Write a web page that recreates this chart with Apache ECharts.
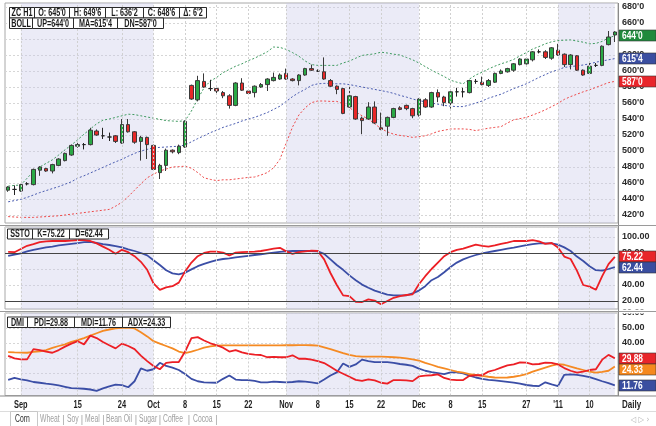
<!DOCTYPE html>
<html><head><meta charset="utf-8">
<script src="https://cdn.jsdelivr.net/npm/echarts@6/dist/echarts.min.js"></script>
<style>html,body{margin:0;padding:0;background:#fff}#c{width:656px;height:426px}</style>
</head><body><div id="c"></div>
<script>
// ---------- DATA ----------
const dates = ['08-30','08-31','09-01','09-02','09-03','09-07','09-08','09-09','09-10','09-13','09-14','09-15','09-16','09-17','09-20','09-21','09-22','09-23','09-24','09-27','09-28','09-29','09-30',
'10-01','10-04','10-05','10-06','10-07','10-08','10-11','10-12','10-13','10-14','10-15','10-18','10-19','10-20','10-21','10-22','10-25','10-26','10-27','10-28','10-29',
'11-01','11-02','11-03','11-04','11-05','11-08','11-09','11-10','11-11','11-12','11-15','11-16','11-17','11-18','11-19','11-22','11-23','11-24','11-26','11-29','11-30',
'12-01','12-02','12-03','12-06','12-07','12-08','12-09','12-10','12-13','12-14','12-15','12-16','12-17','12-20','12-21','12-22','12-23','12-27','12-28','12-29','12-30','12-31',
'01-03','01-04','01-05','01-06','01-07','01-10','01-11','01-12','01-13','01-14'];
const opens  = [451,452,450,459,458,476,478,475,482,488,495,506,508,508,525,519,517.5,519,510,533,524,512,517,507,473,482,501,498,505,582,564,587,578,578,573,569,557,585,575,573,580,583,588,590,597,590,588,595,603,600,599,588,581,578,555,568,541,540,555,529,531,542,554,557,553,545,564,555,573,567.5,560,574,574,573,587,586,582,586,597,599,601,608,609,614,624,624,616,626,621,608,619,601,597,607,607,633,645];
const closes = [455,452,458,459,477,480,475,483,490,497,507,508,508,526,520,519,517.5,512,533,524,511,517,508,477,482,501,499,506,537,565,588,580,578,575,569,557,585,576,572,581,583,590,592,595,590,588,595,603,601,600,590,581,577,547,569,540,538,555,535,527,542,553,552,553,544,565,555,573,567.5,560.5,574,574,574,588,587,583,588,597,600,603,609,615,615,624,624,617,629,620,608,620,601,595,606,607,631,642.5,648.75];
const lows   = [449,445,449,457,457,469,474,472,481,487,494,504,502,507,519,515,512.5,510,509,523,509,488,490,476,465,475,497,496,504,564,562,579,575,572,566,553,556,575,571,567,579,575,587,589,589,587,582,594,600,599,589,580,571,546,554,539,521,539,534,526,519,541,551,551,541,543,554,554,561,556,553,568,567,572,584,582,580,585,596,598,599,607,608,612,622,615,614,619,605,602,600,594,596,605,606,632,636.25];
const highs  = [456,457,459,461,478,481,479,484,491,498,508,510,510,529,527,529,523,520,540,540,525,519,518,508,484,503,502,508,538,583,594,597,589,579,575,571,586,591,576,582,585,591,598,597,603,591,596,604,608,602,617,590,582,579,580,569,543,561,562,548,543,554,556,558,554,566,566,574,577,569,575,579,579,589,590,593,590,598,602,604,610,616,617,625,627,626,630,634,622,621,620,602,612,610,632,650,649.75];
const bollUp  = [456,457,457.5,466,474.5,480,484.5,489,495,501.5,507.5,514,521,527.5,534,538.5,540,542,544,546,545.5,544,542.5,541,539.5,538,537.5,537,538,550,565,579,587.5,592,598,602,606,609,613,616,620,624,630,629.5,627,623,618.5,612.5,608,607,607,607,607,610,612.5,616,619.5,620.5,621.5,623.5,622.5,621,620,617,614,610,605.5,601,597,593,588.5,586,584,590,595,598.5,602.5,606,609,611.5,614.5,619,623,627.5,630.5,634,636.5,638,638.5,638.8,637.5,636,634,634.5,637,641.5,644];
const bollMid = [436.5,438,439.6,442,445,448,450.5,453,455.5,458.5,461.5,466,469,472.5,476,479.5,483,486.5,489.5,493.5,497,500,502,504,504.5,505,505.5,506,507.5,511.5,515.5,519,523,526,529.5,532,534.5,537.5,540,542,545,548,552,556,562,568,573,577,582,584,584.5,584.5,584,584,583,581.5,580,578.5,577,575.5,574,572,569.5,567.5,565,563,561.5,560,558.5,557,556,555.5,555.5,557.5,560,562.5,566,568.5,571,574.5,578,581,584,588,592,595.5,599,601.5,604.5,605.5,606.5,607.5,609,611,612.5,614,615.5];
const bollDn  = [418,417.5,417,417,417,417.5,418,418.5,419,420,421,422,423,424,425,426,427,431,436,443,451,459,466.5,471,475,477.5,480,480.5,481,478.5,473,466.5,464.5,463,464,464,465,466,467,467.5,470,473,479,489.5,510,530,545,554,560.5,562.5,562.5,562,562,559,554,549,544,540,534,528,524,521,519.5,518.5,517,518,519,521.5,524.5,526,527.5,527.6,527.6,527,525.5,527,528.5,529.5,530.5,535,539,540.5,542,545,548,551.5,555.5,559.5,564.5,568,571,574,576.5,579.5,582.5,585.5,587];
const ssK = [81.3,81,85,89,91,93.5,94.5,95,95,95,95.5,96,96,95,92,88,84,79,84,81,76,69,59,42,34,37,38.5,43,57,68,76,80,81.7,81.7,80.5,77,80.4,81,81.5,81.7,82.5,84,85.5,86.5,82,79,81,82,83,82.5,72,55,40,27,26,19,18.75,22,20.5,16,20,24,26,27.5,28.3,41,51,60,68,76,81,84,85.4,88,90.5,89,88,89.6,91.5,93,95,95,95,96,94.5,91.5,92.5,87,75.5,72.5,58,40,38,34,51,66,75.22];
const ssD = [76.3,78,79.6,82,84,85.5,87,88,89.4,90.5,91.5,92.3,93.5,93.8,92.5,91,90,88.5,87,84.5,82.5,80,77,71,65,58.5,54.5,53.3,55.5,59.5,63.5,66.5,69,71,72.5,73.3,74.5,75.5,76.5,77.5,78.3,79.5,80.5,81.5,82,82.5,82.5,82.5,82.5,82,79,72,65,59,52,46,40.5,36.5,33,30.5,28,27,27,27,29.5,33,38.5,46,50,56,62.5,68,72,75,77.5,79.5,81,82.5,84,85.4,86.8,88.3,89.8,91,92,92,92,90.5,87,82.5,75.5,70,63.5,58.5,58,60,62.44];
const pdi = [31.4,29.7,29.1,29.1,35.9,35.3,34.3,33.5,35.3,37.6,39.6,41.2,39.1,44.9,43.3,40.7,38.5,36.4,39.6,38,35.9,31.6,27.9,24.7,22.5,26.8,27.3,27.3,34.3,43.3,43.9,41.7,39.8,38.5,36.9,34.3,35.3,33.7,32.7,32.3,32,30.5,30.7,30.5,30.5,31.8,29.5,29.5,28.9,27.9,26.6,24.1,21.5,19.5,17.5,15.4,14.7,15.8,15.1,13.5,12.9,15.3,15.3,15.1,14.6,17.7,18.3,18.5,19.1,16.7,15.6,15.3,15.3,18.1,18.5,18.5,20.9,22,23.6,25.1,25.7,27.1,26.9,25.7,26,26.9,26.7,25.7,23.3,21.5,20.2,20.9,22,22.5,28.9,32.1,29.88];
const mdi = [15.4,16.7,15.8,15.1,14,13.5,12.9,12.4,11.7,10.8,9.9,9.7,9.5,9,8.1,9.7,11.1,12.2,11.9,10.5,14.5,23.1,21.5,22.5,26.8,24.7,23.6,22,19.3,16.1,14.5,13.8,13.6,13.5,16.1,18.3,15.6,15.3,15.3,14.7,13.8,13.8,14.3,14,13.7,14,14.5,14.3,13.7,13.1,15.6,18.3,20.4,26.3,24.1,25.7,28.9,27.9,27.3,27.3,27.3,26.8,26,25.5,24.7,22.9,21.5,20.6,19.9,19.2,20.4,20.4,19.7,18.3,17,16.1,15.4,15.1,14.6,14.1,13.6,12.9,12,11.5,11.3,13.8,12.4,11.3,18.8,19.1,18.8,18.1,17.2,15.9,14.5,13.3,11.76];
const adx = [33.9,33.7,33.6,33.5,34.1,34.5,35.3,36.7,38,39.1,40.7,41.9,43.3,44.9,46.5,48.1,49,49.7,50.1,50.3,49.7,47.1,44.4,41.2,39.6,38,36.4,34.3,33.2,34.3,35.5,36.9,37.8,38.3,38.4,38.4,38.4,38.4,38.4,38.4,38.4,38.4,38.4,38.4,38.5,38.5,38.6,38.6,38.5,38.2,37.1,35.9,34.6,33.2,32.1,31.3,30.9,30.9,30.9,30.9,30.7,30.5,30.3,29.8,29.1,28.2,26.8,25.5,24.1,23.1,22,20.9,20.2,19.3,18.8,18.1,17.5,17,16.9,17,17.5,18.3,19.3,20.9,22.3,23.6,24.9,25.9,25.5,24.3,23.1,22,20.9,20.2,20.7,21.5,24.33];
const tickDates  = ['09-01','09-15','09-24','10-01','10-08','10-15','10-22','11-01','11-08','11-15','11-22','12-01','12-08','12-15','12-27','01-03','01-10'];
const tickLabels = ['Sep','15','24','Oct','8','15','22','Nov','8','15','22','Dec','8','15','27',"'11",'10'];
const shadeRanges = [['09-01','10-01'],['11-01','12-01'],['01-03','01-14']];
const symbolName = 'ZC H1';
const tabs = ['Corn','Wheat','Soy','Meal','Bean Oil','Sugar','Coffee','Cocoa'];

// ---------- CHART ----------
const FONT = "'Liberation Sans',Arial,sans-serif";
const last = a => a[a.length - 1];
function priceFmt(v){ const i = Math.floor(v); return i + "'" + Math.round((v - i) * 8); }

const PLOT_L = 5, PLOT_R = 38;
const grids = [
  {left:PLOT_L, right:PLOT_R, top:3,   height:220},
  {left:PLOT_L, right:PLOT_R, top:227, height:82},
  {left:PLOT_L, right:PLOT_R, top:313, height:82.5}
].map(g=>Object.assign(g,{show:true, borderColor:'#a8a8a8', borderWidth:1, backgroundColor:'transparent'}));

function xAx(gi){
  return {type:'category', gridIndex:gi, data:dates, boundaryGap:true,
    axisLine:{show:false}, axisTick:{show:false}, splitLine:{show:false}, axisLabel:{show:false}};
}
const yLabelBase = {color:'#2a2a2a', fontWeight:'bold', fontSize:9, fontFamily:FONT, margin:4};
const splitCycle = {show:true, lineStyle:{type:[2,2], width:1, color:['rgba(0,0,0,0)','#d6d6d6']}};
const yAxes = [
  {type:'value', gridIndex:0, position:'right', min:410, max:685, interval:10,
   axisLine:{show:false}, axisTick:{show:false}, splitLine:splitCycle,
   axisLabel:Object.assign({formatter:v=> v%20===0 ? priceFmt(v) : ''}, yLabelBase)},
  {type:'value', gridIndex:1, position:'right', min:10, max:112.5, interval:10,
   axisLine:{show:false}, axisTick:{show:false}, splitLine:splitCycle,
   axisLabel:Object.assign({formatter:v=> (v%20===0 && v<=100) ? v.toFixed(2) : ''}, yLabelBase)},
  {type:'value', gridIndex:2, position:'right', min:5, max:60, interval:5,
   axisLine:{show:false}, axisTick:{show:false}, splitLine:splitCycle,
   axisLabel:Object.assign({formatter:v=> v%10===0 ? v.toFixed(2) : ''}, yLabelBase)}
];

function helper(gi, extraLines){
  return {type:'line', xAxisIndex:gi, yAxisIndex:gi, data:[], z:0, silent:true, animation:false,
    markArea:{silent:true, itemStyle:{color:'rgba(200,200,232,0.36)'},
      data: shadeRanges.map(r=>[{xAxis:r[0]},{xAxis:r[1]}])},
    markLine:{silent:true, symbol:'none', animation:false, label:{show:false},
      lineStyle:{color:'#d0d0d0', type:[2,2], width:1},
      data: tickDates.map(d=>({xAxis:d})).concat(extraLines||[])}
  };
}
function line(gi, data, color, width, dashed){
  return {type:'line', xAxisIndex:gi, yAxisIndex:gi, data, symbol:'none', silent:true, animation:false, z:3,
    lineStyle:{color, width, type: dashed ? [2,2] : 'solid'}};
}
const candle = dates.map((d,i)=>[opens[i], closes[i], lows[i], highs[i]]);

const option = {
  animation:false,
  backgroundColor:'#fff',
  grid: grids,
  xAxis:[xAx(0),xAx(1),xAx(2)],
  yAxis:yAxes,
  series:[
    helper(0),
    helper(1, [{yAxis:80, lineStyle:{color:'#444', type:'solid', width:1}},{yAxis:20, lineStyle:{color:'#444', type:'solid', width:1}}]),
    helper(2),
    {type:'candlestick', xAxisIndex:0, yAxisIndex:0, data:candle, barWidth:4, z:4, silent:true,
      itemStyle:{color:'#2aa945', color0:'#e82828', borderColor:'#3a3a3a', borderColor0:'#3a3a3a', borderColorDoji:'#222', borderWidth:1}},
    line(0, bollUp, '#3f9a60', 1, true),
    line(0, bollMid, '#4a5cb0', 1, true),
    line(0, bollDn, '#ee4a4a', 1, true),
    line(1, ssD, '#3b4ea6', 1.8),
    line(1, ssK, '#ec1f25', 1.8),
    line(2, mdi, '#3b4ea6', 1.8),
    line(2, adx, '#f58a23', 1.8),
    line(2, pdi, '#ec1f25', 1.8)
  ]
};
const chart = echarts.init(document.getElementById('c'), null, {renderer:'canvas'});
chart.setOption(option);

// ---------- OVERLAYS ----------
const els = [];
function txt(x, y, text, font, fill, align, sx, z){
  els.push({type:'text', x, y, scaleX:sx||1, z:z||101,
    style:{text, fill, font, textAlign:align||'left', textVerticalAlign:'middle', align:align||'left', verticalAlign:'middle'}});
}
function hbox(x, y, w, h, t){
  els.push({type:'rect', shape:{x:x+0.5, y:y+0.5, width:w, height:h}, style:{fill:'#fff', stroke:'#2a2a2a', lineWidth:1}, z:100});
  txt(x+0.5+w/2, y+0.5+h/2+0.5, t, 'bold 10px '+FONT, '#1a1a1a', 'center', 0.72);
}
function row(x0, y, h, widths, texts){ let x = x0; widths.forEach((w,i)=>{ hbox(x, y, w, h, texts[i]); x += w; }); }
const O = last(opens), H = last(highs), L = last(lows), C = last(closes), PC = closes[closes.length-2];
row(9, 7, 10.5, [25,35,36,38,36,27], [symbolName, 'O: '+priceFmt(O), 'H: '+priceFmt(H), 'L: '+priceFmt(L), 'C: '+priceFmt(C), 'Δ: '+priceFmt(C-PC)]);
row(9, 17.5, 10.5, [23,41,44,46], ['BOLL', 'UP='+priceFmt(last(bollUp)), 'MA='+priceFmt(last(bollMid)), 'DN='+priceFmt(last(bollDn))]);
row(7, 228.5, 10, [25,37,39], ['SSTO', 'K='+last(ssK).toFixed(2), 'D='+last(ssD).toFixed(2)]);
row(7, 316.5, 10.5, [20,47,48,48], ['DMI', 'PDI='+last(pdi).toFixed(2), 'MDI='+last(mdi).toFixed(2), 'ADX='+last(adx).toFixed(2)]);

// cover for clipped top labels
els.push({type:'rect', shape:{x:619, y:0, width:37, height:3}, style:{fill:'#fff'}, z:80});
els.push({type:'rect', shape:{x:619, y:309.5, width:37, height:4}, style:{fill:'#fff'}, z:80});

// value boxes on right axis
const BX = 619, BW = 37, BH = 11;
function valueBoxes(axis, items){
  const arr = items.map(it=>({y: chart.convertToPixel({yAxisIndex:axis}, it.v), t: it.t, c: it.c}));
  arr.sort((a,b)=>a.y-b.y);
  for(let i=1;i<arr.length;i++){ if(arr[i].y - arr[i-1].y < BH) arr[i].y = arr[i-1].y + BH; }
  arr.forEach(b=>{
    const top = Math.round(b.y - BH/2);
    els.push({type:'rect', shape:{x:BX, y:top, width:BW, height:BH}, style:{fill:b.c, stroke:'#333', lineWidth:0.6}, z:110});
    txt(BX+3, top+BH/2+0.5, b.t, 'bold 10px '+FONT, '#fff', 'left', 0.84, 111);
  });
}
valueBoxes(0, [{v:last(bollUp), t:priceFmt(last(bollUp)), c:'#1f8a3c'},{v:last(bollMid), t:priceFmt(last(bollMid)), c:'#3a4ea0'},{v:last(bollDn), t:priceFmt(last(bollDn)), c:'#e8252a'}]);
valueBoxes(1, [{v:last(ssK), t:last(ssK).toFixed(2), c:'#e8252a'},{v:last(ssD), t:last(ssD).toFixed(2), c:'#3a4ea0'}]);
valueBoxes(2, [{v:last(pdi), t:last(pdi).toFixed(2), c:'#e8252a'},{v:last(adx), t:last(adx).toFixed(2), c:'#f5891f'},{v:last(mdi), t:last(mdi).toFixed(2), c:'#3a4ea0'}]);

// x-axis date labels, placed through the category axis
tickDates.forEach((d,i)=>{
  const x = chart.convertToPixel({xAxisIndex:2}, dates.indexOf(d));
  txt(x, 405, tickLabels[i], 'bold 10px '+FONT, '#1e1e1e', 'center', 0.74);
});
txt(622, 405, 'Daily', 'bold 10px '+FONT, '#1e1e1e', 'left', 0.8);

// separators & frame
const sep = (x1,y1,x2,y2,c,w)=>els.push({type:'line', shape:{x1,y1,x2,y2}, style:{stroke:c||'#8a8a8a', lineWidth:w||1}, z:90});
sep(618.5, 3, 618.5, 396);
sep(0, 225.5, 656, 225.5, '#9a9a9a');
sep(0, 311.5, 656, 311.5, '#9a9a9a');
sep(0, 396, 656, 396, '#8a8a8a');
sep(0, 411.5, 656, 411.5, '#dcdcdc');

// tabs
els.push({type:'rect', shape:{x:10.5, y:411.5, width:27, height:16}, style:{fill:'#fff', stroke:'#c8c8c8', lineWidth:1}, z:95});
const tabX = [15,40,67,85,106,139,163,193];
const sepX = [38,63.5,82,103.5,136,160,189,216.5];
tabs.forEach((t,i)=>{
  txt(tabX[i], 419.5, t, '10px '+FONT, i===0 ? '#2a2a2a' : '#a0a0a0', 'left', 0.68, 100);
  if(i>0) txt(sepX[i], 419.5, '|', '11px '+FONT, '#b0b0b0', 'center', 1, 100);
});
txt(640, 420, '◁ ▷ ›', '8px DejaVu Sans', '#b5b5b5', 'center', 0.9, 100);

chart.setOption({graphic:{elements:els}});
</script>
</body></html>
